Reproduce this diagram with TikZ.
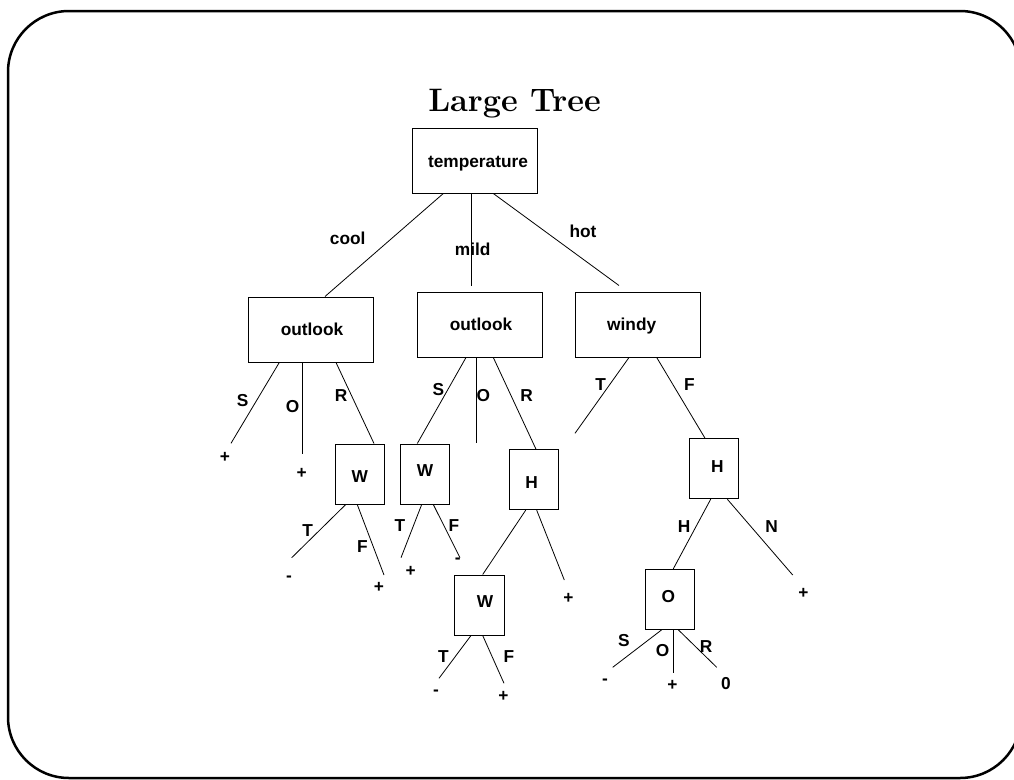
\documentclass[tikz,border=0pt]{standalone}
\usepackage{fontspec}
\newfontfamily\labfont{Liberation Sans}
\newcommand\nudged[3]{\raisebox{#2}{\hspace*{#1}#3\hspace*{-#1}}}
\begin{document}
\begin{tikzpicture}[x=1pt,y=-1pt,
  lab/.style={font=\labfont\bfseries\fontsize{17.3}{20}\selectfont, inner sep=0pt, text height=12.3pt, text depth=0pt, anchor=center},
  bigbox/.style={lab, draw, line width=1pt, minimum width=125pt, minimum height=65pt},
  smallbox/.style={lab, draw, line width=1pt, minimum width=49.5pt, minimum height=60pt},
  branch/.style={line width=0.8pt}]
\useasboundingbox (0,0) rectangle (1014,779);
% frame
\draw[line width=2.5pt, rounded corners=61pt] (8,11) rectangle (1021,778);
% title
\node[font=\bfseries\fontsize{32.5}{38}\selectfont, anchor=base, inner sep=0pt] (title) at (514.5,111.7) {Large Tree};
% boxes
\node[bigbox] (temp) at (474.5,160.5) {\nudged{3.5pt}{-1.2pt}{temperature}};
\node[bigbox] (out1) at (310.5,329.5) {\nudged{1.5pt}{0pt}{outlook}};
\node[bigbox] (out2) at (479.5,324.5) {\nudged{1.5pt}{0pt}{outlook}};
\node[bigbox] (windy) at (637.5,324.5) {\nudged{-5.8pt}{0pt}{windy}};
\node[smallbox] (w1) at (359.75,474) {\nudged{0pt}{-2.7pt}{W}};
\node[smallbox] (w2) at (425,474) {\nudged{0pt}{3.3pt}{W}};
\node[smallbox] (hm) at (534,479.7) {\nudged{-2.3pt}{-2.6pt}{H}};
\node[smallbox] (w3) at (479.7,605) {\nudged{5.3pt}{3.3pt}{W}};
\node[smallbox] (hr) at (713.8,468.7) {\nudged{3.5pt}{2pt}{H}};
\node[smallbox] (ob) at (670.2,599.3) {\nudged{-1.9pt}{2.6pt}{O}};
% leaf ends
\coordinate (e1S) at (231,443.3);
\coordinate (e1O) at (302.3,454);
\coordinate (ew1T) at (291.7,557.7);
\coordinate (ew1F) at (384,575);
\coordinate (e2O) at (476.7,443.3);
\coordinate (ew2T) at (401,557.7);
\coordinate (ew2F) at (460,557.7);
\coordinate (ehmR) at (564.3,580);
\coordinate (ew3T) at (439,678.3);
\coordinate (ew3F) at (504,683.3);
\coordinate (ewT) at (575,433.3);
\coordinate (ehrN) at (792.7,575);
\coordinate (eoS) at (612.7,667.3);
\coordinate (eoO) at (673.3,672.7);
\coordinate (eoR) at (716.7,667.3);
% temperature branches
\draw[branch] ([xshift=-31.2pt]temp.south) -- ([xshift=14.5pt]out1.north);
\draw[branch] ([xshift=-3.5pt]temp.south) -- ([xshift=-8.5pt,yshift=6pt]out2.north);
\draw[branch] ([xshift=18.8pt]temp.south) -- ([xshift=-18.5pt,yshift=6pt]windy.north);
% outlook 1
\draw[branch] ([xshift=-31.2pt]out1.south) -- (e1S);
\draw[branch] ([xshift=-8.2pt]out1.south) -- (e1O);
\draw[branch] ([xshift=25.5pt]out1.south) -- ([xshift=14.25pt]w1.north);
\draw[branch] ([xshift=-14pt]w1.south) -- (ew1T);
\draw[branch] ([xshift=-2.5pt]w1.south) -- (ew1F);
% outlook 2
\draw[branch] ([xshift=-13.5pt]out2.south) -- ([xshift=-7.7pt]w2.north);
\draw[branch] ([xshift=-2.8pt]out2.south) -- (e2O);
\draw[branch] ([xshift=13.8pt]out2.south) -- ([xshift=2pt]hm.north);
\draw[branch] ([xshift=-3.3pt]w2.south) -- (ew2T);
\draw[branch] ([xshift=8.3pt]w2.south) -- (ew2F);
\draw[branch] ([xshift=-8.3pt]hm.south) -- ([xshift=3pt]w3.north);
\draw[branch] ([xshift=2.7pt]hm.south) -- (ehmR);
\draw[branch] ([xshift=-8.7pt]w3.south) -- (ew3T);
\draw[branch] ([xshift=3pt]w3.south) -- (ew3F);
% windy
\draw[branch] ([xshift=-8.5pt]windy.south) -- (ewT);
\draw[branch] ([xshift=19.2pt]windy.south) -- ([xshift=-8.8pt]hr.north);
\draw[branch] ([xshift=-3.1pt]hr.south) -- ([xshift=3.1pt]ob.north);
\draw[branch] ([xshift=13.5pt]hr.south) -- (ehrN);
\draw[branch] ([xshift=-8.5pt]ob.south) -- (eoS);
\draw[branch] ([xshift=3.1pt]ob.south) -- (eoO);
\draw[branch] ([xshift=8.1pt]ob.south) -- (eoR);
% branch labels
\node[lab] (lcool) at (347.7,238) {cool};
\node[lab] (lmild) at (472.7,249) {mild};
\node[lab] (lhot) at (583,231.7) {hot};
\node[lab] (l1S) at (242.7,400) {S};
\node[lab] (l1O) at (292.7,406) {O};
\node[lab] (l1R) at (341,395.7) {R};
\node[lab] (v1S) at (225,456.7) {+};
\node[lab] (v1O) at (301.7,472.7) {+};
\node[lab] (lw1T) at (307.7,530.7) {T};
\node[lab] (lw1F) at (362.3,546.7) {F};
\node[lab] (vw1T) at (289,575) {-};
\node[lab] (vw1F) at (379,586) {+};
\node[lab] (l2S) at (438.3,389.3) {S};
\node[lab] (l2O) at (483.3,395) {O};
\node[lab] (l2R) at (526.7,395) {R};
\node[lab] (lw2T) at (400,525) {T};
\node[lab] (lw2F) at (454,525.7) {F};
\node[lab] (vw2T) at (410.7,570.7) {+};
\node[lab] (vw2F) at (457.7,557.7) {-};
\node[lab] (vhm) at (568.3,597.3) {+};
\node[lab] (lw3T) at (443.3,656) {T};
\node[lab] (lw3F) at (509,656) {F};
\node[lab] (vw3T) at (436,689.3) {-};
\node[lab] (vw3F) at (503.3,695) {+};
\node[lab] (lwT) at (600.7,384.3) {T};
\node[lab] (lwF) at (689.3,384.3) {F};
\node[lab] (lhrH) at (684,526) {H};
\node[lab] (lhrN) at (771.7,526) {N};
\node[lab] (vhrN) at (803.3,592.7) {+};
\node[lab] (loS) at (624,640) {S};
\node[lab] (loO) at (662.7,650.7) {O};
\node[lab] (loR) at (706,646) {R};
\node[lab] (voS) at (605,678.3) {-};
\node[lab] (voO) at (672.3,684) {+};
\node[lab] (voR) at (726,683.3) {0};
\end{tikzpicture}
\end{document}
